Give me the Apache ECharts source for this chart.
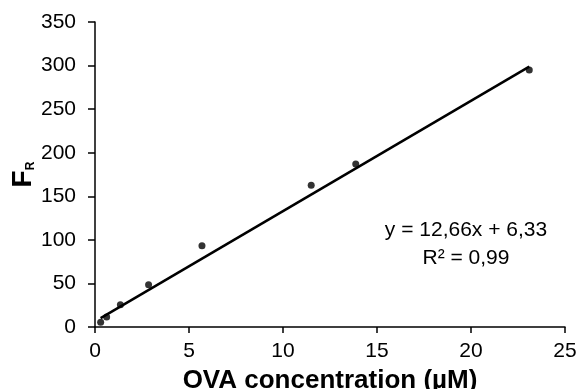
<!DOCTYPE html>
<html>
<head>
<meta charset="utf-8">
<script src="https://cdn.jsdelivr.net/npm/echarts@6/dist/echarts.min.js"></script>
<style>
    html, body { margin: 0; padding: 0; background: #fff; }
    #chart { width: 579px; height: 389px; }
</style>
</head>
<body>
<div id="chart"></div>
<script>
// measured points (OVA concentration in µM, F_R)
var concentration = [0.3, 0.62, 1.35, 2.85, 5.69, 11.5, 13.87, 23.1];
var fr = [5.4, 11.5, 25.6, 48.6, 93.3, 162.7, 187.1, 295];

// linear fit shown on the chart
var slope = 12.66;
var intercept = 6.33;
var fitLabel = ['y = 12,66x + 6,33', 'R² = 0,99'];

var xTicks = [0, 25, 5];
var yTicks = [0, 350, 50];

var points = [];
for (var i = 0; i < concentration.length; i++) {
    points.push([concentration[i], fr[i]]);
}
var xLo = Math.min.apply(null, concentration);
var xHi = Math.max.apply(null, concentration);
var fitLine = [[xLo, slope * xLo + intercept], [xHi, slope * xHi + intercept]];

var font = 'Liberation Sans, Arial, sans-serif';
var myChart = echarts.init(document.getElementById('chart'));

var option = {
    animation: false,
    grid: { left: 95, right: 14, top: 22, bottom: 62, outerBoundsMode: 'none', containLabel: false },
    xAxis: {
        type: 'value',
        min: xTicks[0], max: xTicks[1], interval: xTicks[2],
        name: 'OVA concentration (µM)',
        nameLocation: 'middle',
        nameGap: 41,
        nameMoveOverlap: false,
        nameTextStyle: { fontFamily: font, fontSize: 26, fontWeight: 'bold', color: '#000' },
        axisLine: { lineStyle: { color: '#000', width: 1.5 } },
        axisTick: { length: 6, lineStyle: { color: '#000', width: 1.5 } },
        axisLabel: { fontFamily: font, fontSize: 21, color: '#000', margin: 14 },
        splitLine: { show: false }
    },
    yAxis: {
        type: 'value',
        min: yTicks[0], max: yTicks[1], interval: yTicks[2],
        name: '{f|F}{r|R}',
        nameLocation: 'middle',
        nameRotate: 90,
        nameGap: 58,
        nameMoveOverlap: false,
        nameTextStyle: {
            fontFamily: font, color: '#000',
            rich: {
                f: { fontFamily: font, fontSize: 28, fontWeight: 'bold', color: '#000', verticalAlign: 'bottom' },
                r: { fontFamily: font, fontSize: 12, fontWeight: 'bold', color: '#000', verticalAlign: 'bottom' }
            }
        },
        axisLine: { show: true, lineStyle: { color: '#000', width: 1.5 } },
        axisTick: { show: true, length: 7, lineStyle: { color: '#000', width: 1.5 } },
        axisLabel: { fontFamily: font, fontSize: 21, color: '#000', margin: 19 },
        splitLine: { show: false }
    },
    graphic: [{
        type: 'text',
        x: 466,
        y: 216,
        style: {
            text: fitLabel.join('\n'),
            fontFamily: font,
            fontSize: 21,
            lineHeight: 28,
            fill: '#000',
            align: 'center',
            verticalAlign: 'top'
        }
    }],
    series: [{
        type: 'line',
        data: fitLine,
        symbol: 'none',
        lineStyle: { color: '#000', width: 2.5 },
        z: 1
    }, {
        type: 'scatter',
        data: points,
        symbol: 'circle',
        symbolSize: 7,
        itemStyle: { color: '#000' },
        z: 2
    }]
};

myChart.setOption(option);
</script>
</body>
</html>
